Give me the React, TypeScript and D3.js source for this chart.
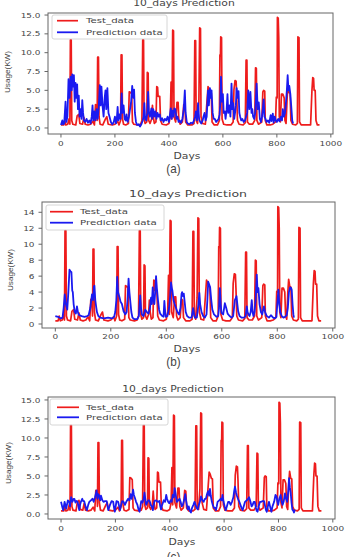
import React from "react";
import * as d3 from "d3";

type Pt = [number, number];

// values
const titleText = "10_days Prediction";
const legendLabels = ["Test_data", "Prediction data"];
const captions = ["(a)", "(b)", "(c)"];
const xTicks = [0, 200, 400, 600, 800, 1000];
const yTicksFloat = [0, 2.5, 5, 7.5, 10, 12.5, 15];
const yTicksInt = [0, 2, 4, 6, 8, 10, 12, 14];

// Test_data (same in all three panels): [day, kW]
const testData: Pt[] = [
  [0, 0.4], [10, 0.4], [14, 1.0], [18, 0.4], [25, 0.5], [30, 1.2], [33, 0.5], [35, 11.7], [38, 11.7], [40, 1.0],
  [44, 0.5], [55, 0.4], [60, 1.6], [66, 1.8], [70, 0.6], [80, 0.5], [85, 1.4], [90, 0.5], [100, 0.4], [110, 0.5],
  [118, 0.9], [124, 0.4], [128, 3.1], [132, 3.0], [134, 1.0], [136, 9.4], [139, 9.4], [141, 1.5], [145, 0.5], [155, 0.4],
  [165, 1.2], [170, 1.5], [175, 0.5], [190, 0.4], [200, 0.5], [210, 0.9], [215, 0.4], [221, 1.0], [223, 9.7], [226, 9.7],
  [228, 1.2], [232, 0.5], [240, 0.4], [250, 0.6], [253, 4.8], [258, 4.7], [262, 4.5], [265, 0.8], [270, 0.5], [285, 0.4],
  [295, 0.5], [300, 1.0], [303, 11.7], [306, 11.7], [308, 1.2], [312, 0.6], [318, 0.8], [320, 7.4], [323, 7.3], [325, 1.0],
  [330, 0.6], [336, 1.2], [339, 3.0], [342, 1.5], [346, 0.6], [352, 0.8], [355, 5.5], [358, 5.4], [360, 4.2], [366, 4.2],
  [369, 1.0], [375, 0.5], [390, 0.4], [400, 0.6], [405, 1.5], [408, 6.1], [411, 1.2], [414, 13.0], [417, 12.9], [419, 1.5],
  [425, 0.8], [430, 3.4], [434, 3.4], [437, 1.0], [442, 0.5], [450, 0.8], [455, 3.1], [459, 3.0], [462, 0.8], [470, 0.4],
  [485, 0.4], [493, 0.6], [496, 11.6], [499, 11.6], [501, 1.0], [506, 0.6], [511, 3.3], [514, 13.3], [517, 13.2], [519, 1.5],
  [525, 0.6], [535, 0.5], [545, 5.5], [549, 5.2], [553, 4.7], [557, 4.6], [560, 0.8], [568, 0.4], [580, 0.4], [587, 1.0],
  [589, 9.7], [591, 9.6], [592, 12.1], [595, 12.0], [597, 1.2], [603, 0.5], [615, 0.4], [630, 0.4], [638, 0.8], [641, 5.1],
  [645, 6.3], [649, 6.2], [651, 4.5], [654, 1.0], [660, 0.5], [675, 0.4], [683, 0.7], [686, 9.0], [689, 9.0], [691, 0.8],
  [698, 0.5], [710, 0.5], [718, 1.0], [721, 8.0], [724, 7.9], [726, 1.0], [732, 0.5], [744, 0.8], [748, 4.8], [751, 5.0],
  [755, 4.9], [757, 1.0], [763, 0.4], [775, 0.4], [785, 0.5], [795, 0.8], [798, 4.1], [801, 4.0], [802, 14.7], [805, 14.6],
  [807, 12.0], [809, 1.5], [813, 0.8], [817, 4.5], [822, 4.5], [827, 4.0], [830, 1.0], [834, 0.6], [838, 4.0], [841, 5.6],
  [845, 4.7], [849, 4.6], [852, 1.0], [858, 0.5], [870, 0.4], [876, 0.6], [878, 12.1], [882, 12.0], [884, 0.8], [890, 0.4],
  [910, 0.4], [925, 0.4], [930, 5.0], [933, 6.7], [936, 6.6], [938, 5.0], [942, 5.0], [945, 1.0], [950, 0.4], [958, 0.4],
];

// Prediction data, panel (a)
const predA: Pt[] = [
  [0, 0.4], [5, 1.0], [8, 0.5], [12, 0.6], [17, 3.5], [20, 0.8], [24, 1.5], [28, 6.5], [32, 4.0], [36, 6.8],
  [40, 5.0], [42, 7.1], [45, 5.5], [48, 7.0], [51, 3.5], [54, 6.0], [57, 4.0], [60, 5.8], [63, 2.5], [66, 4.3],
  [69, 1.5], [72, 2.5], [76, 1.2], [79, 3.7], [82, 2.0], [85, 1.0], [90, 0.8], [95, 1.2], [100, 0.7], [105, 1.0],
  [110, 0.6], [114, 1.5], [117, 3.0], [120, 1.0], [124, 2.2], [128, 1.0], [132, 2.5], [136, 1.2], [140, 2.8], [144, 5.7],
  [147, 3.0], [150, 5.5], [154, 3.0], [158, 1.5], [162, 4.0], [165, 5.0], [168, 2.5], [172, 5.3], [176, 2.0], [180, 1.5],
  [185, 0.8], [190, 0.5], [195, 0.7], [200, 1.5], [204, 0.6], [207, 1.2], [210, 2.8], [213, 1.0], [217, 1.8], [221, 1.2],
  [225, 4.6], [228, 2.0], [232, 3.0], [236, 1.2], [240, 1.0], [243, 1.8], [247, 0.8], [252, 1.5], [256, 2.5], [260, 3.5],
  [264, 5.6], [268, 4.0], [271, 5.1], [274, 2.0], [278, 0.8], [282, 0.4], [288, 0.5], [293, 0.2], [298, 0.5], [303, 1.0],
  [306, 1.5], [309, 3.3], [312, 1.2], [316, 1.0], [320, 2.0], [323, 4.8], [326, 2.0], [330, 1.5], [335, 2.6], [338, 1.2],
  [342, 2.5], [346, 1.5], [350, 2.2], [354, 1.2], [358, 2.0], [362, 1.5], [366, 1.8], [370, 1.0], [375, 1.3], [380, 0.8],
  [385, 1.2], [390, 1.0], [395, 1.5], [400, 0.8], [404, 1.8], [407, 2.6], [410, 1.2], [413, 2.3], [417, 1.5], [420, 2.6],
  [424, 2.5], [428, 1.2], [432, 1.5], [436, 0.8], [440, 1.0], [445, 0.7], [450, 1.2], [455, 2.5], [459, 5.0], [462, 2.0],
  [466, 0.8], [470, 0.6], [476, 0.5], [482, 0.7], [488, 0.6], [493, 1.0], [497, 1.5], [500, 2.2], [504, 1.0], [508, 3.3],
  [512, 1.2], [516, 0.8], [520, 0.6], [525, 1.0], [528, 1.5], [532, 2.0], [536, 1.0], [540, 1.5], [545, 5.0], [548, 3.0],
  [552, 5.3], [555, 4.0], [558, 5.0], [562, 2.0], [566, 1.2], [570, 1.2], [575, 0.8], [580, 1.0], [584, 1.2], [588, 1.8],
  [590, 3.0], [593, 6.8], [596, 3.5], [600, 4.5], [603, 2.0], [607, 2.2], [610, 1.2], [614, 2.5], [617, 4.5], [620, 2.0],
  [624, 3.0], [628, 1.5], [632, 5.9], [635, 2.5], [638, 3.3], [642, 1.2], [645, 2.0], [648, 3.0], [651, 5.3], [654, 4.0],
  [658, 4.9], [661, 2.0], [664, 1.5], [668, 1.0], [672, 1.2], [677, 0.8], [682, 1.0], [686, 1.5], [690, 2.0], [694, 5.0],
  [698, 2.5], [702, 4.8], [706, 2.0], [709, 2.5], [712, 1.5], [716, 1.2], [720, 2.0], [725, 5.9], [729, 2.5], [733, 3.4],
  [737, 1.2], [741, 0.8], [745, 1.5], [748, 2.5], [751, 3.8], [754, 1.5], [758, 1.2], [762, 0.8], [767, 1.0], [772, 0.7],
  [777, 1.7], [780, 0.9], [785, 1.9], [788, 0.7], [792, 1.5], [796, 1.0], [800, 0.8], [805, 1.2], [810, 0.9], [815, 1.5],
  [819, 1.0], [822, 2.5], [826, 1.5], [830, 2.0], [834, 3.5], [837, 5.0], [840, 7.0], [843, 5.0], [846, 5.6], [850, 4.5],
  [854, 2.5], [857, 1.0], [860, 0.6],
];

// Prediction data, panel (b)
const predB: Pt[] = [
  [0, 1.0], [10, 0.9], [20, 0.7], [26, 0.8], [30, 2.0], [34, 3.7], [38, 2.5], [43, 1.8], [47, 4.0], [51, 6.8],
  [55, 6.6], [58, 6.5], [61, 4.2], [63, 4.0], [66, 2.5], [70, 1.5], [74, 1.3], [78, 2.2], [82, 1.4], [86, 1.1],
  [95, 1.0], [105, 0.9], [115, 1.0], [120, 1.1], [126, 2.0], [132, 3.7], [136, 3.0], [139, 4.7], [141, 4.8], [144, 3.0],
  [147, 2.2], [150, 1.5], [155, 1.0], [162, 0.8], [175, 0.7], [190, 0.8], [205, 0.7], [212, 0.9], [216, 1.5], [220, 3.0],
  [223, 5.9], [226, 4.0], [231, 3.4], [235, 2.8], [240, 2.5], [246, 1.6], [252, 1.2], [257, 1.5], [261, 3.5], [264, 5.7],
  [267, 4.0], [270, 2.9], [274, 1.5], [278, 0.8], [285, 0.6], [295, 0.6], [301, 1.0], [306, 3.6], [309, 2.0], [312, 1.2],
  [318, 1.0], [324, 1.8], [330, 1.5], [336, 1.3], [341, 2.0], [345, 3.3], [348, 2.5], [351, 4.6], [354, 3.0], [357, 2.5],
  [360, 4.0], [363, 6.0], [366, 4.5], [370, 3.0], [374, 1.8], [378, 1.3], [385, 1.0], [390, 0.9], [393, 2.9], [396, 1.5],
  [398, 0.9], [404, 1.0], [410, 2.0], [414, 3.5], [417, 5.2], [420, 4.5], [422, 4.2], [426, 3.0], [430, 2.5], [435, 2.0],
  [440, 1.5], [446, 1.2], [451, 2.0], [455, 3.8], [457, 4.0], [460, 3.5], [463, 3.8], [467, 2.5], [470, 1.5], [475, 1.0],
  [482, 0.8], [491, 0.8], [497, 2.0], [500, 1.2], [503, 0.8], [510, 0.8], [516, 2.5], [519, 3.9], [522, 2.5], [527, 1.5],
  [533, 1.0], [539, 0.8], [545, 1.2], [548, 3.0], [551, 5.3], [554, 5.0], [558, 4.6], [562, 3.0], [566, 1.8], [572, 1.2],
  [581, 0.9], [587, 1.0], [590, 2.0], [593, 4.5], [596, 2.5], [599, 1.4], [605, 1.2], [611, 2.6], [616, 2.0], [621, 1.3],
  [628, 1.0], [635, 0.8], [641, 1.0], [644, 2.0], [647, 3.0], [650, 3.2], [653, 3.5], [656, 2.5], [659, 1.6], [664, 1.0],
  [671, 0.8], [680, 0.8], [686, 1.0], [690, 2.2], [693, 1.5], [696, 1.2], [700, 1.0], [704, 1.5], [708, 3.0], [711, 1.5],
  [714, 1.0], [718, 1.5], [722, 3.0], [726, 6.2], [729, 4.0], [732, 4.5], [736, 2.5], [741, 1.5], [746, 1.2], [749, 1.8],
  [752, 2.2], [756, 1.5], [762, 1.0], [770, 0.8], [777, 1.1], [785, 0.8], [791, 0.7], [797, 0.9], [800, 2.5], [804, 4.3],
  [807, 2.5], [811, 1.5], [816, 1.0], [822, 0.8], [828, 0.9], [834, 1.1], [838, 2.0], [842, 4.0], [846, 4.6], [850, 4.5],
  [852, 4.3], [855, 2.5], [858, 1.2], [860, 0.8],
];

// Prediction data, panel (c)
const predC: Pt[] = [
  [0, 1.6], [4, 1.0], [8, 0.5], [13, 1.6], [19, 0.7], [25, 1.8], [30, 1.6], [33, 1.0], [37, 2.2], [42, 1.6],
  [46, 2.0], [49, 2.0], [53, 1.5], [57, 1.7], [61, 1.6], [64, 1.0], [67, 0.5], [70, 1.2], [73, 1.6], [78, 2.0],
  [81, 1.7], [85, 1.7], [90, 1.0], [95, 0.5], [100, 1.2], [104, 1.6], [110, 1.8], [116, 2.0], [120, 1.6], [125, 2.2],
  [131, 3.1], [134, 2.0], [137, 2.6], [141, 2.4], [144, 1.8], [147, 2.4], [152, 1.8], [156, 1.6], [162, 1.7], [168, 1.7],
  [171, 1.0], [174, 0.5], [180, 1.2], [186, 1.7], [192, 1.6], [195, 0.8], [198, 0.3], [201, 1.0], [204, 1.7], [210, 1.6],
  [214, 1.0], [217, 0.5], [221, 1.2], [225, 1.7], [230, 1.6], [235, 1.2], [240, 1.6], [247, 2.0], [252, 1.8], [256, 2.6],
  [260, 2.0], [265, 3.2], [268, 2.5], [271, 2.2], [276, 1.6], [281, 1.2], [285, 0.6], [289, 0.3], [292, 1.0], [295, 1.7],
  [300, 1.5], [304, 2.0], [307, 2.8], [310, 2.0], [313, 1.2], [318, 1.6], [322, 1.8], [326, 1.7], [330, 1.2], [334, 1.0],
  [338, 0.5], [341, 1.2], [344, 1.7], [350, 1.8], [356, 1.6], [362, 1.7], [365, 1.0], [368, 0.6], [372, 1.2], [378, 1.8],
  [383, 1.6], [387, 2.5], [390, 2.0], [394, 1.6], [398, 1.4], [403, 1.8], [407, 1.6], [411, 2.5], [415, 2.2], [418, 3.4],
  [422, 2.5], [426, 1.6], [431, 1.8], [436, 2.0], [440, 1.6], [444, 1.0], [448, 1.2], [454, 2.0], [457, 2.6], [460, 1.8],
  [463, 1.2], [466, 0.6], [470, 1.0], [474, 0.4], [478, 0.2], [482, 0.8], [487, 1.2], [491, 1.6], [495, 1.2], [499, 0.8],
  [503, 0.6], [507, 1.2], [511, 1.6], [515, 2.3], [520, 1.8], [525, 1.6], [529, 2.0], [533, 2.0], [537, 2.6], [541, 3.0],
  [545, 2.4], [548, 3.3], [551, 2.4], [555, 1.6], [558, 1.2], [563, 0.8], [567, 0.8], [570, 0.5], [573, 1.0], [576, 1.6],
  [582, 1.8], [588, 2.0], [591, 1.8], [594, 2.5], [598, 1.6], [602, 1.0], [606, 0.5], [610, 1.0], [615, 1.6], [619, 1.6],
  [624, 1.2], [629, 1.6], [634, 2.2], [637, 3.0], [640, 3.6], [644, 2.8], [647, 2.4], [651, 2.0], [656, 1.6], [660, 1.2],
  [664, 0.8], [668, 0.5], [672, 1.0], [677, 1.6], [683, 1.8], [688, 2.0], [692, 2.2], [697, 1.6], [701, 1.0], [705, 1.2],
  [709, 1.6], [713, 1.6], [717, 0.8], [720, 0.4], [723, 0.3], [727, 1.0], [732, 1.6], [737, 1.6], [742, 1.7], [747, 1.7],
  [751, 1.0], [754, 0.5], [757, 0.3], [761, 1.0], [765, 1.6], [769, 1.0], [772, 0.5], [774, 0.3], [778, 1.0], [784, 1.6],
  [789, 2.5], [793, 2.3], [796, 1.6], [799, 1.2], [803, 2.0], [808, 2.5], [812, 1.6], [815, 1.2], [819, 1.6], [824, 2.7],
  [828, 2.0], [832, 1.6], [836, 3.0], [839, 4.7], [842, 3.5], [845, 2.8], [848, 1.5], [851, 0.6], [855, 0.4], [857, 0.2],
  [860, 0.6],
];

const RED = "#ee1c1c";
const BLUE = "#1a1af0";
const TEXT = "#444";
const FRAME = "#666";
const SANS = "DejaVu Sans, sans-serif";
const NARROW = "Liberation Sans Narrow, Liberation Sans, sans-serif";

// layout of each panel (pixels)
const panels = [
  {
    left: 48, right: 333, top: 13, bottom: 134, yDomain: [-0.8, 15.27],
    titleX: 184, titleY: 6, titleSize: 8.5, titleSx: 1.27,
    tickY: 145.5, daysX: 187, daysY: 159, capY: 172.5, ylabX: 10, ylabY: 72,
    leg: { x: 52, y: 15, w: 115, h: 24, r1: 20.7, r2: 32.3, l0: 57, l1: 78, tx: 86 },
  },
  {
    left: 42, right: 335, top: 202, bottom: 328, yDomain: [-0.5, 15.29],
    titleX: 188, titleY: 196.5, titleSize: 9.5, titleSx: 1.32,
    tickY: 338.5, daysX: 187, daysY: 352, capY: 366, ylabX: 12.5, ylabY: 270,
    leg: { x: 46, y: 205, w: 118, h: 25, r1: 211.7, r2: 222.7, l0: 50, l1: 73, tx: 80 },
  },
  {
    left: 48, right: 335, top: 397, bottom: 519, yDomain: [-0.66, 15.39],
    titleX: 173, titleY: 391.5, titleSize: 8.5, titleSx: 1.27,
    tickY: 531, daysX: 182, daysY: 545, capY: 561, ylabX: 11, ylabY: 463,
    leg: { x: 50, y: 399, w: 118, h: 26, r1: 407.3, r2: 417.3, l0: 57, l1: 79, tx: 86 },
  },
];

const SText = ({ x, y, sx = 1, size, anchor = "middle", family = SANS, children }: any) => (
  <text
    transform={`translate(${x},${y}) scale(${sx},1)`}
    fontSize={size}
    fontFamily={family}
    textAnchor={anchor}
    fill={TEXT}
  >
    {children}
  </text>
);

function Panel({ cfg, pred, yTicks, yFmt, caption }: any) {
  const x = d3.scaleLinear().domain([-48, 1008]).range([cfg.left, cfg.right]);
  const y = d3.scaleLinear().domain(cfg.yDomain).range([cfg.bottom, cfg.top]);
  const line = d3.line<Pt>().x(d => x(d[0])).y(d => y(d[1]));
  const leg = cfg.leg;

  return (
    <g>
      <SText x={cfg.titleX} y={cfg.titleY} sx={cfg.titleSx} size={cfg.titleSize}>{titleText}</SText>

      <path d={line(testData) || ""} fill="none" stroke={RED} strokeWidth={1.7} strokeLinejoin="round" />
      <path d={line(pred) || ""} fill="none" stroke={BLUE} strokeWidth={1.8} strokeLinejoin="round" />

      <rect x={cfg.left} y={cfg.top} width={cfg.right - cfg.left} height={cfg.bottom - cfg.top}
        fill="none" stroke={FRAME} strokeWidth={1} />

      {xTicks.map(t => (
        <g key={"x" + t}>
          <line x1={x(t)} x2={x(t)} y1={cfg.bottom} y2={cfg.bottom + 3.5} stroke={FRAME} />
          <SText x={x(t)} y={cfg.tickY} sx={1.27} size={7}>{t}</SText>
        </g>
      ))}
      {yTicks.map((t: number) => (
        <g key={"y" + t}>
          <line x1={cfg.left - 3.5} x2={cfg.left} y1={y(t)} y2={y(t)} stroke={FRAME} />
          <SText x={cfg.left - 7.5} y={y(t) + 2.6} sx={1.27} size={7} anchor="end">{yFmt(t)}</SText>
        </g>
      ))}

      <SText x={cfg.daysX} y={cfg.daysY} sx={1.35} size={8}>Days</SText>
      <text
        transform={`translate(${cfg.ylabX},${cfg.ylabY}) rotate(-90)`}
        fontSize={8}
        fontFamily={NARROW}
        textAnchor="middle"
        textLength={42}
        lengthAdjust="spacingAndGlyphs"
        fill={TEXT}
      >
        Usage(KW)
      </text>

      <rect x={leg.x} y={leg.y} width={leg.w} height={leg.h} rx={2}
        fill="white" fillOpacity={0.8} stroke="#ccc" strokeWidth={0.8} />
      <line x1={leg.l0} x2={leg.l1} y1={leg.r1} y2={leg.r1} stroke={RED} strokeWidth={1.7} />
      <line x1={leg.l0} x2={leg.l1} y1={leg.r2} y2={leg.r2} stroke={BLUE} strokeWidth={1.8} />
      <SText x={leg.tx} y={leg.r1 + 2.7} sx={1.36} size={7.5} anchor="start">{legendLabels[0]}</SText>
      <SText x={leg.tx} y={leg.r2 + 2.7} sx={1.36} size={7.5} anchor="start">{legendLabels[1]}</SText>

      <SText x={173.5} y={cfg.capY} sx={0.9} size={13} family={NARROW}>{caption}</SText>
    </g>
  );
}

export default function App() {
  const fmtFloat = d3.format(".1f");
  const fmtInt = d3.format("d");
  return (
    <svg width={349} height={557} style={{ position: "absolute", left: 0, top: 0, background: "#fff" }}>
      <Panel cfg={panels[0]} pred={predA} yTicks={yTicksFloat} yFmt={fmtFloat} caption={captions[0]} />
      <Panel cfg={panels[1]} pred={predB} yTicks={yTicksInt} yFmt={fmtInt} caption={captions[1]} />
      <Panel cfg={panels[2]} pred={predC} yTicks={yTicksFloat} yFmt={fmtFloat} caption={captions[2]} />
    </svg>
  );
}
